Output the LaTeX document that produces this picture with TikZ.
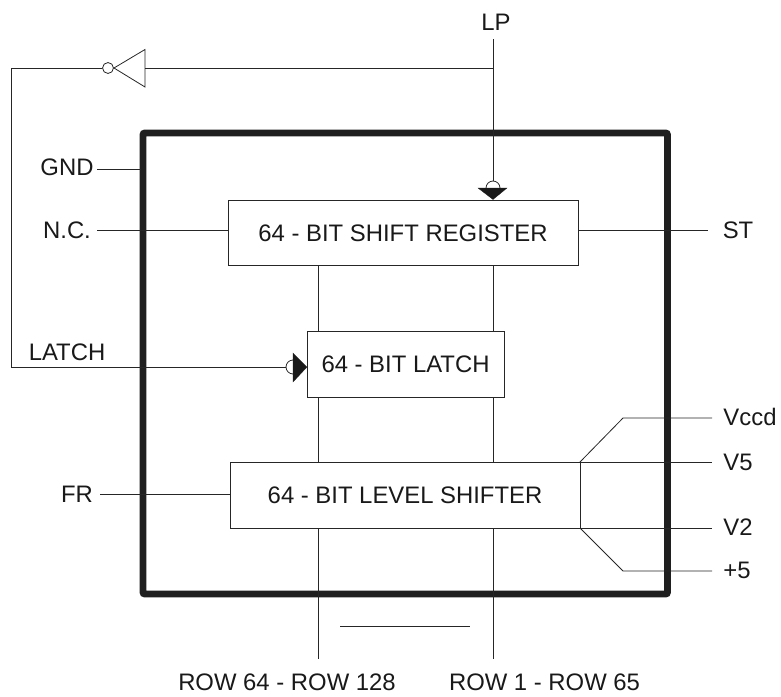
\documentclass[tikz,border=0pt]{standalone}
\usepackage{fontspec}
\setmainfont{Liberation Sans}
\tikzset{
  lbl/.style={inner sep=0pt,font=\fontsize{17.9pt}{20pt}\selectfont,text height=12.8pt,text depth=0pt,anchor=center,text=black!90},
  blockbox/.style={draw=black!85,line width=0.65pt,fill=white,inner sep=0pt,outer sep=0pt,font=\fontsize{17.9pt}{20pt}\selectfont,text height=12.8pt,text depth=0pt,text=black!90},
  wire/.style={draw=black!85,line width=0.6pt},
  outer/.style={draw=black!88,line width=5.2pt,rounded corners=1.5pt},
  solidtip/.style={fill=black!90,draw=black!90,line width=0.2pt},
  invring/.style={circle,draw=black!85,line width=0.6pt,fill=white,minimum size=8.2pt,inner sep=0pt}
}
\begin{document}
\begin{tikzpicture}[x=0.75pt,y=-0.75pt]
\useasboundingbox (0,0) rectangle (781,696);
% outer package frame
\draw[outer] (143,133) rectangle (667.5,594);
% blocks
\node[blockbox,minimum width=262.5pt,minimum height=48.75pt] (sr) at (403,232.5) {64 - BIT SHIFT REGISTER};
\node[blockbox,minimum width=147.75pt,minimum height=49.5pt] (la) at (405.5,364) {64 - BIT LATCH};
\node[blockbox,minimum width=262.5pt,minimum height=49.5pt] (ls) at (405,495) {64 - BIT LEVEL SHIFTER};
% labels
\node[lbl] (lp) at (496,22) {LP};
\node[lbl] (gnd) at (67,167) {GND};
\node[lbl] (nc) at (67,230) {N.C.};
\node[lbl] (latch) at (67,352) {LATCH};
\node[lbl] (fr) at (77,494) {FR};
\node[lbl] (st) at (738,230) {ST};
\node[lbl] (vccd) at (750,417) {Vccd};
\node[lbl] (v5) at (738,462) {V5};
\node[lbl] (v2) at (738,527) {V2};
\node[lbl] (p5) at (737,570) {+5};
\node[lbl] (r64) at (287,682) {ROW 64 - ROW 128};
\node[lbl] (r1) at (544.5,682) {ROW 1 - ROW 65};
% named points
\coordinate (lptop) at (493,39);
\coordinate (lpj) at (493,68);
\coordinate (lparc) at (493,181);
\coordinate (invbase) at (145,68);
\coordinate (invtip) at (114,68);
\coordinate (corner1) at (11,68);
\coordinate (corner2) at (11,367);
\coordinate (latcharc) at (286,367);
\coordinate (col1) at (318,659);
\coordinate (col2) at (493,659);
\coordinate (gndw) at (97,169);
\coordinate (gnde) at (141,169);
\coordinate (ncw) at (97,230);
\coordinate (frw) at (100,494);
\coordinate (stw) at (708,230);
\coordinate (pwr1) at (623,418);
\coordinate (pwr2) at (712,418);
\coordinate (pwr3) at (712,462);
\coordinate (pwr5) at (623,571);
\coordinate (pwr6) at (712,571);
\coordinate (barl) at (340,626);
\coordinate (barr) at (470,626);
% top clock symbol and wires
\draw[wire] (lptop) -- (lparc);
\draw[wire] (486,188) arc[start angle=180,end angle=360,radius=7];
\draw[solidtip] (478,188) -- (507,188) -- (493,199.5) -- cycle;
% latch clock symbol
\draw[wire] (293,374) arc[start angle=90,end angle=270,radius=7];
\draw[solidtip] (293,353) -- (293,382) -- (307,367) -- cycle;
% inverter
\draw[wire] (lpj) -- (invbase);
\draw[wire] (145,49.5) -- (145,87) -- (invtip) -- cycle;
\node[invring] (ring) at (108,68) {};
\draw[wire] (ring.west) -- (corner1) -- (corner2) -- (latcharc);
% side wires
\draw[wire] (gndw) -- (gnde);
\draw[wire] (ncw) -- (ncw -| sr.west);
\draw[wire] (sr.east |- stw) -- (stw);
\draw[wire] (frw) -- (frw -| ls.west);
\draw[wire] (sr.south -| col1) -- (la.north -| col1);
\draw[wire] (sr.south -| col2) -- (la.north -| col2);
\draw[wire] (la.south -| col1) -- (ls.north -| col1);
\draw[wire] (la.south -| col2) -- (ls.north -| col2);
\draw[wire] (ls.south -| col1) -- (col1);
\draw[wire] (ls.south -| col2) -- (col2);
\draw[wire] (barl) -- (barr);
\draw[wire] (ls.north east) -- (pwr1) -- (pwr2);
\draw[wire] (ls.north east) -- (ls.north east -| pwr3);
\draw[wire] (ls.south east) -- (ls.south east -| pwr3);
\draw[wire] (ls.south east) -- (pwr5) -- (pwr6);
\end{tikzpicture}
\end{document}
